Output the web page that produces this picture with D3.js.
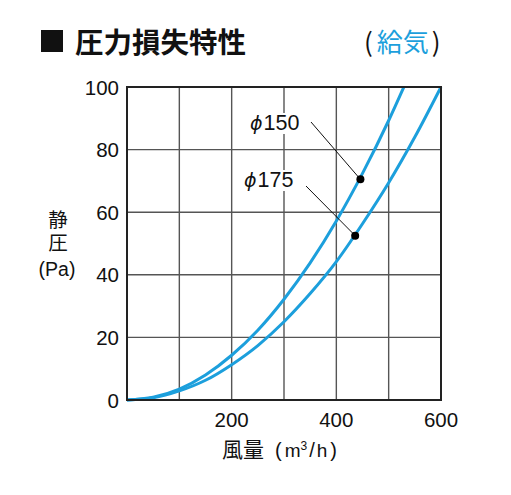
<!DOCTYPE html>
<html>
<head>
<meta charset="utf-8">
<script src="https://cdn.jsdelivr.net/npm/d3@7"></script>
<style>
  body { margin: 0; background: #fff; }
  text { font-family: "Liberation Sans", Arial, "Noto Sans CJK JP", sans-serif; }
  .jp { font-family: "Noto Sans CJK JP", sans-serif; }
</style>
</head>
<body>
<svg id="chart"></svg>
<script>
// air volume (m3/h) vs static pressure (Pa)
const flow150 = [0, 50, 100, 150, 200, 250, 300, 350, 400, 450, 500, 529];
const pres150 = [0, 0.9, 3.5, 8.0, 14.3, 22.3, 32.2, 43.8, 57.2, 72.4, 89.3, 100];
const flow175 = [0, 50, 100, 150, 200, 250, 300, 350, 400, 450, 500, 550, 600];
const pres175 = [0, 0.7, 2.9, 6.3, 11.3, 17.4, 25.0, 34.0, 44.2, 56.3, 69.4, 84.0, 100];
const xTicks = [200, 400, 600];
const yTicks = [0, 20, 40, 60, 80, 100];
const gridX = [100, 200, 300, 400, 500];
const gridY = [20, 40, 60, 80];
// labelled points on each curve
const markers = [
  { name: '150', q: 446, p: 70.5 },
  { name: '175', q: 436, p: 52.5 }
];

const W = 511, H = 495;
const margin = { top: 87, right: 70, bottom: 95, left: 127 };
const width = 314, height = 313;
const BLUE = '#1c9fdc';

const svg = d3.select('#chart').attr('width', W).attr('height', H);

// title
svg.append('rect').attr('x', 41).attr('y', 30).attr('width', 22).attr('height', 22).attr('fill', '#111');
svg.append('text').attr('class', 'jp').attr('x', 75).attr('y', 53)
  .attr('font-size', 28.5).attr('font-weight', 'bold').attr('fill', '#111')
  .text('圧力損失特性');
const sub = svg.append('text').attr('class', 'jp').attr('x', 364).attr('y', 52)
  .attr('font-size', 26).attr('fill', '#111');
sub.append('tspan').text('(');
sub.append('tspan').attr('dx', 4).attr('fill', BLUE).text('給気');
sub.append('tspan').attr('dx', 3).text(')');

const g = svg.append('g').attr('transform', `translate(${margin.left},${margin.top})`);

const x = d3.scaleLinear().domain([0, 600]).range([0, width]);
const y = d3.scaleLinear().domain([0, 100]).range([height, 0]);

// grid
g.selectAll('.gx').data(gridX).enter().append('line')
  .attr('x1', d => x(d)).attr('x2', d => x(d)).attr('y1', 0).attr('y2', height)
  .attr('stroke', '#555').attr('stroke-width', 1.4);
g.selectAll('.gy').data(gridY).enter().append('line')
  .attr('y1', d => y(d)).attr('y2', d => y(d)).attr('x1', 0).attr('x2', width)
  .attr('stroke', '#555').attr('stroke-width', 1.4);

// axes text
g.selectAll('.yt').data(yTicks).enter().append('text')
  .attr('x', -8).attr('y', d => y(d) + 7.5)
  .attr('text-anchor', 'end').attr('font-size', 20.5).attr('fill', '#111')
  .text(d => d);
g.selectAll('.xt').data(xTicks).enter().append('text')
  .attr('x', d => x(d)).attr('y', height + 27)
  .attr('text-anchor', 'middle').attr('font-size', 20.5).attr('fill', '#111')
  .text(d => d);

// y label: 静圧 set vertically, unit below
svg.append('text').attr('class', 'jp')
  .attr('x', 58).attr('y', 210)
  .attr('writing-mode', 'tb').attr('letter-spacing', 3.5)
  .attr('font-size', 19.5).attr('fill', '#111')
  .text('静圧');
svg.append('text').attr('x', 57).attr('y', 276).attr('text-anchor', 'middle')
  .attr('font-size', 19.5).attr('fill', '#111').text('(Pa)');

// x label
const xl = svg.append('text').attr('x', 222).attr('y', 457).attr('fill', '#111');
xl.append('tspan').attr('class', 'jp').attr('font-size', 21).text('風量');
xl.append('tspan').attr('dx', 11).attr('font-size', 20).text('(');
xl.append('tspan').attr('dx', 3).attr('font-size', 19).text('m');
xl.append('tspan').attr('font-size', 12).attr('dy', -7).text('3');
xl.append('tspan').attr('font-size', 20).attr('dy', 7).attr('dx', 2).text('/');
xl.append('tspan').attr('font-size', 19).attr('dx', 2).text('h');
xl.append('tspan').attr('font-size', 20).attr('dx', 3).text(')');

// curves
const line = d3.line().x(d => x(d[0])).y(d => y(d[1])).curve(d3.curveMonotoneX);
[[flow150, pres150], [flow175, pres175]].forEach(([q, p]) => {
  g.append('path').datum(d3.zip(q, p))
    .attr('d', line).attr('fill', 'none')
    .attr('stroke', BLUE).attr('stroke-width', 3);
});

// frame
g.append('rect').attr('width', width).attr('height', height)
  .attr('fill', 'none').attr('stroke', '#222').attr('stroke-width', 2);

// labels with leader lines
const lab = [
  { tx: 250, ty: 130, lx: 311, ly: 122 },
  { tx: 244, ty: 187, lx: 306, ly: 186 }
];
markers.forEach((m, i) => {
  const L = lab[i];
  const t = svg.append('text').attr('x', L.tx).attr('y', L.ty)
    .attr('font-size', 21.5).attr('fill', '#111');
  t.append('tspan').attr('font-style', 'italic').attr('font-family', 'DejaVu Sans').attr('font-size', 19).text('ϕ');
  t.append('tspan').attr('dx', 1).text(m.name);
  const bb = t.node().getBBox();
  svg.insert('rect', () => t.node())
    .attr('x', bb.x - 1).attr('y', bb.y + 2).attr('width', bb.width + 2).attr('height', bb.height - 3)
    .attr('fill', '#fff');
  const px = margin.left + x(m.q), py = margin.top + y(m.p);
  svg.append('line').attr('x1', L.lx).attr('y1', L.ly).attr('x2', px).attr('y2', py)
    .attr('stroke', '#111').attr('stroke-width', 1);
  svg.append('circle').attr('cx', px).attr('cy', py).attr('r', 4).attr('fill', '#000');
});
</script>
</body>
</html>
